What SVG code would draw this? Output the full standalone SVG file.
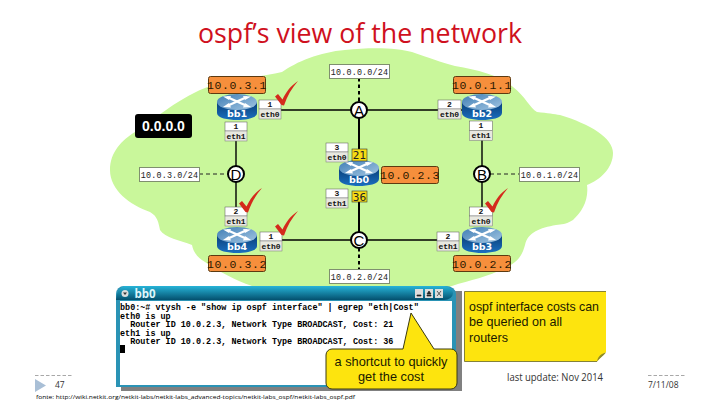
<svg xmlns="http://www.w3.org/2000/svg" width="720" height="405" viewBox="0 0 720 405">
<style>
.sans{font-family:"Open Sans","DejaVu Sans",sans-serif}
.addr{fill:#f68f3c;stroke:#5c3a10;stroke-width:1}
.addrt{font-family:"Liberation Mono",monospace;font-size:11.5px;fill:#2a1800;text-anchor:middle;letter-spacing:.6px}
.sub{fill:#fff;stroke:#7f8f6f;stroke-width:1}
.subt{font-family:"Liberation Mono",monospace;font-size:8.4px;fill:#222;text-anchor:middle;letter-spacing:.2px}
.c1{fill:#fff;stroke:#555;stroke-width:.5}
.c2{fill:#e8e8e0;stroke:#777;stroke-width:.5}
.ift{font-family:"Liberation Mono",monospace;font-size:8px;fill:#111;text-anchor:middle;font-weight:bold}
.nod{fill:#fff;stroke:#000;stroke-width:2}
.nodt{font-family:"Liberation Sans",sans-serif;font-size:15px;fill:#000;text-anchor:middle}
.rt{font-family:"DejaVu Sans",sans-serif;font-size:9.5px;font-weight:bold;fill:#fff;text-anchor:middle}
.cost{fill:#f7dc14;stroke:#333;stroke-width:.6}
.costt{font-family:"DejaVu Sans",sans-serif;font-size:10.5px;fill:#222;text-anchor:middle}
.chk{fill:#d42a1c}
.tl{font-family:"Liberation Mono",monospace;font-size:8.45px;fill:#000;font-weight:bold}
.note{font-family:"Liberation Sans",sans-serif;font-size:13px;fill:#1a1a00}
.thin{stroke:#000;stroke-width:1.4;fill:none}
.thick{stroke:#000;stroke-width:2;fill:none}
.dthin{stroke:#222;stroke-width:1;stroke-dasharray:4 3;fill:none}
.dthick{stroke:#000;stroke-width:2;stroke-dasharray:3.5 3;fill:none}
</style>
<defs>
<linearGradient id="rg" x1="0" x2="0" y1="0" y2="1"><stop offset="0" stop-color="#0a3f78"/><stop offset="1" stop-color="#1a6fc0"/></linearGradient>
<linearGradient id="rtop" x1="0" x2="1" y1="0" y2="1"><stop offset="0" stop-color="#3f7db5"/><stop offset="1" stop-color="#a3c6e2"/></linearGradient>
<linearGradient id="bar" x1="0" x2="0" y1="0" y2="1"><stop offset="0" stop-color="#27b4d8"/><stop offset="1" stop-color="#04506e"/></linearGradient>
<g id="router">
<path d="M-20-5V6C-20 11-9 13 0 13S20 11 20 6V-5Z" fill="url(#rg)"/>
<ellipse cx="0" cy="-5" rx="20" ry="8" fill="url(#rtop)"/>
<path d="M-10-10 10-1M10-10-10-1" stroke="#fff" stroke-width="2.400" fill="none"/>
<path d="M-14-10.500-6-11-8-7ZM14-10.500 6-11 8-7ZM-14 0-6 .5-8-4ZM14 0 6 .5 8-4Z" fill="#fff"/>
</g>
<path id="check" d="M0 15.500 3 13 7.500 18.500C11 11 15.500 5 23 0 17 7 12 15 9 24.500L6.500 24Z"/>
</defs>
<rect width="720" height="405" fill="#fff"/>
<path id="cloud" fill="#c9f79b" d="M110 170C110 152 122 140 135 132C150 123 175 100 205 88C225 80 255 78 282 72C296 62 320 52 345 50C372 47 398 48 412 52C430 58 440 62 455 66C480 70 500 76 513 87C525 96 530 108 537 112C548 113 554 114 560 115C590 124 613 138 613 153C613 168 600 180 587 185C589 200 582 212 573 220C565 225 562 224 556 225C540 228 528 232 525 245C522 256 518 262 505 268C488 277 470 280 452 286C425 293 390 298 350 296C320 296 285 292 252 286C235 280 220 272 205 262C195 256 193 250 192 245C180 240 165 238 160 230C158 218 155 215 150 212C130 205 110 190 110 170Z"/>
<text class="sans" x="360" y="43" font-size="28" fill="#cf1020" text-anchor="middle" textLength="324" lengthAdjust="spacingAndGlyphs">ospf’s view of the network</text>

<g id="connectors">
<path class="thin" d="M281 110H351M367 110H438M461 110H462"/>
<path class="thin" d="M236 140V166M236 182V207M482 140V166M482 182V207"/>
<path class="thin" d="M282 240H351M367 240H437"/>
<path class="thick" d="M359 118V149M359 202V232"/>
<path class="dthick" d="M359 78V102M359 248V269"/>
<path class="dthin" d="M199 174H228M490 174H519"/>
</g>

<g id="n-0000"><rect x="135" y="114" width="57" height="24" rx="3" fill="#000"/><text x="163.500" y="131" font-family="Liberation Sans, sans-serif" font-size="14" font-weight="bold" fill="#fff" text-anchor="middle">0.0.0.0</text></g>

<g id="subnet-a"><rect class="sub" x="329.500" y="64.500" width="60" height="14"/><text class="subt" x="359.500" y="74.500">10.0.0.0/24</text></g>
<g id="subnet-d"><rect class="sub" x="139.500" y="167.500" width="60" height="14"/><text class="subt" x="169.500" y="177.500">10.0.3.0/24</text></g>
<g id="subnet-b"><rect class="sub" x="519.500" y="167.500" width="60" height="14"/><text class="subt" x="549.500" y="177.500">10.0.1.0/24</text></g>
<g id="subnet-c"><rect class="sub" x="329.500" y="269.500" width="60" height="14"/><text class="subt" x="359.500" y="279.500">10.0.2.0/24</text></g>

<g id="A"><circle class="nod" cx="359" cy="110" r="8"/><text class="nodt" x="359" y="115.500">A</text></g>
<g id="B"><circle class="nod" cx="482" cy="174" r="8"/><text class="nodt" x="482" y="179.500">B</text></g>
<g id="C"><circle class="nod" cx="359" cy="240" r="8"/><text class="nodt" x="359" y="245.500">C</text></g>
<g id="D"><circle class="nod" cx="236" cy="174" r="8"/><text class="nodt" x="236" y="179.500">D</text></g>

<g id="bb1"><use href="#router" x="237" y="107"/><text class="rt" x="237" y="116.500">bb1</text>
<rect class="addr" x="208.500" y="76.500" width="57" height="17" rx="2"/><text class="addrt" x="237" y="89">10.0.3.1</text>
<rect class="c1" x="259" y="100" width="22" height="9"/><rect class="c2" x="259" y="109" width="22" height="10"/><text class="ift" x="270" y="107">1</text><text class="ift" x="270" y="116.500">eth0</text>
<rect class="c1" x="225" y="122" width="22" height="9"/><rect class="c2" x="225" y="131" width="22" height="10"/><text class="ift" x="236" y="129">1</text><text class="ift" x="236" y="138.500">eth1</text>
<use href="#check" class="chk" x="275" y="81"/></g>

<g id="bb2"><use href="#router" x="482" y="107"/><text class="rt" x="482" y="116.500">bb2</text>
<rect class="addr" x="453.500" y="76.500" width="57" height="17" rx="2"/><text class="addrt" x="482" y="89">10.0.1.1</text>
<rect class="c1" x="438" y="100" width="23" height="9"/><rect class="c2" x="438" y="109" width="23" height="10"/><text class="ift" x="449.500" y="107">2</text><text class="ift" x="449.500" y="116.500">eth0</text>
<rect class="c1" x="469.500" y="121" width="23" height="9.500"/><rect class="c2" x="469.500" y="130.500" width="23" height="10"/><text class="ift" x="481" y="128">1</text><text class="ift" x="481" y="138">eth1</text></g>

<g id="bb0"><use href="#router" x="359" y="173"/><text class="rt" x="359" y="182.500">bb0</text>
<rect class="addr" x="381.500" y="166.500" width="57" height="17" rx="2"/><text class="addrt" x="410" y="179">10.0.2.3</text>
<rect class="c1" x="326" y="143" width="22" height="9"/><rect class="c2" x="326" y="152" width="22" height="10"/><text class="ift" x="337" y="150">3</text><text class="ift" x="337" y="159.500">eth0</text>
<rect class="c1" x="326" y="189" width="22" height="9"/><rect class="c2" x="326" y="198" width="22" height="10"/><text class="ift" x="337" y="196">3</text><text class="ift" x="337" y="205.500">eth1</text>
<rect class="cost" x="352" y="149" width="15" height="12"/><text class="costt" x="359.500" y="159">21</text>
<rect class="cost" x="352" y="191" width="15" height="11"/><text class="costt" x="359.500" y="200.500">36</text></g>

<g id="bb4"><use href="#router" x="237" y="240"/><text class="rt" x="237" y="249.500">bb4</text>
<rect class="addr" x="208.500" y="255.500" width="57" height="16" rx="2"/><text class="addrt" x="237" y="267.500">10.0.3.2</text>
<rect class="c1" x="225" y="207" width="22" height="9"/><rect class="c2" x="225" y="216" width="22" height="10"/><text class="ift" x="236" y="214">2</text><text class="ift" x="236" y="223.500">eth1</text>
<rect class="c1" x="260" y="232" width="22" height="9"/><rect class="c2" x="260" y="241" width="22" height="10"/><text class="ift" x="271" y="239">1</text><text class="ift" x="271" y="248.500">eth0</text>
<use href="#check" class="chk" x="239" y="188"/><use href="#check" class="chk" x="275" y="211"/></g>

<g id="bb3"><use href="#router" x="482" y="240"/><text class="rt" x="482" y="249.500">bb3</text>
<rect class="addr" x="453.500" y="255.500" width="57" height="16" rx="2"/><text class="addrt" x="482" y="267.500">10.0.2.2</text>
<rect class="c1" x="469.500" y="207" width="23" height="9"/><rect class="c2" x="469.500" y="216" width="23" height="10"/><text class="ift" x="481" y="214">2</text><text class="ift" x="481" y="223.500">eth0</text>
<rect class="c1" x="437" y="232" width="22" height="9"/><rect class="c2" x="437" y="241" width="22" height="10"/><text class="ift" x="448" y="239">2</text><text class="ift" x="448" y="248.500">eth1</text>
<use href="#check" class="chk" x="485" y="188"/></g>

<g id="terminal">
<rect x="121" y="291" width="341" height="100" fill="#808080"/>
<path d="M116 294a8 8 0 0 1 8-8H446a10 8 0 0 1 10 8V387H116Z" fill="#2a93b5"/>
<rect x="120" y="301" width="332" height="84" fill="#fff"/>
<path d="M116 300a10 14 0 0 1 8-14H444a9 7 0 0 1 9 7v0a9 7 0 0 1-9 7Z" fill="url(#bar)"/>
<circle cx="125" cy="293.500" r="3.500" fill="#ddd"/><path d="M123 292.500h4l-2 2.500Z" fill="#333"/>
<text class="sans" x="134.500" y="298" font-size="11.500" font-weight="bold" fill="#dff6fb">bb0</text>
<rect x="415" y="289" width="8" height="9" fill="#ddd"/><rect x="425" y="289" width="8" height="9" fill="#ddd"/><rect x="435" y="289" width="8" height="9" fill="#ddd"/>
<path d="M417 295h4v1h-4ZM427 295h4v1h-4ZM427 294l2-3 2 3ZM437 291l4 5M441 291l-4 5" fill="#222" stroke="#222" stroke-width=".7"/>
<text class="tl" x="120" y="310">bb0:~# vtysh -e "show ip ospf interface" | egrep "eth|Cost"</text>
<text class="tl" x="120" y="318.500">eth0 is up</text>
<text class="tl" x="120" y="327" xml:space="preserve">  Router ID 10.0.2.3, Network Type BROADCAST, Cost: 21</text>
<text class="tl" x="120" y="335.500">eth1 is up</text>
<text class="tl" x="120" y="344" xml:space="preserve">  Router ID 10.0.2.3, Network Type BROADCAST, Cost: 36</text>
<rect x="120" y="345" width="5" height="8" fill="#000"/>
</g>

<g id="callout">
<path d="M332 349H403L411 313 434 349H451a6 6 0 0 1 6 6V383a6 6 0 0 1-6 6H332a6 6 0 0 1-6-6V355a6 6 0 0 1 6-6Z" fill="#fde40e" stroke="#3a3a10" stroke-width="1"/>
<text class="note" x="391" y="366" text-anchor="middle" textLength="113" lengthAdjust="spacingAndGlyphs">a shortcut to quickly</text>
<text class="note" x="391" y="381" text-anchor="middle" textLength="66" lengthAdjust="spacingAndGlyphs">get the cost</text>
</g>

<g id="note">
<path d="M464.500 291.500H606V352L597 361.500H464.500Z" fill="#fde40e"/>
<path d="M464.500 361.500V291.500H606M464.500 361.500H597" fill="none" stroke="#666622" stroke-width=".8"/>
<path d="M597 361.500C598 356 601 354 606 352.500 603 356 600 358 597 361.500Z" fill="#8c8a2a"/>
<text class="note" x="469" y="311" textLength="130" lengthAdjust="spacingAndGlyphs">ospf interface costs can</text>
<text class="note" x="469" y="326" textLength="93" lengthAdjust="spacingAndGlyphs">be queried on all</text>
<text class="note" x="469" y="342" textLength="39" lengthAdjust="spacingAndGlyphs">routers</text>
</g>

<text class="sans" x="507" y="381" font-size="10.500" fill="#333" textLength="96" lengthAdjust="spacingAndGlyphs">last update: Nov 2014</text>

<g id="footer">
<path d="M35 375.500H72M648 375.500H685" stroke="#a8a8a8" stroke-width="1" stroke-dasharray="3.500 2" fill="none"/>
<path d="M35 379L46 385.500 35 392Z" fill="#a9bfd6"/>
<text class="sans" x="55" y="388" font-size="8.500" fill="#333">47</text>
<text class="sans" x="648" y="388" font-size="8.500" fill="#333">7/11/08</text>
<text class="sans" x="36" y="399" font-size="6" fill="#000" textLength="319" lengthAdjust="spacingAndGlyphs">fonte: http://wiki.netkit.org/netkit-labs/netkit-labs_advanced-topics/netkit-labs_ospf/netkit-labs_ospf.pdf</text>
</g>
</svg>
